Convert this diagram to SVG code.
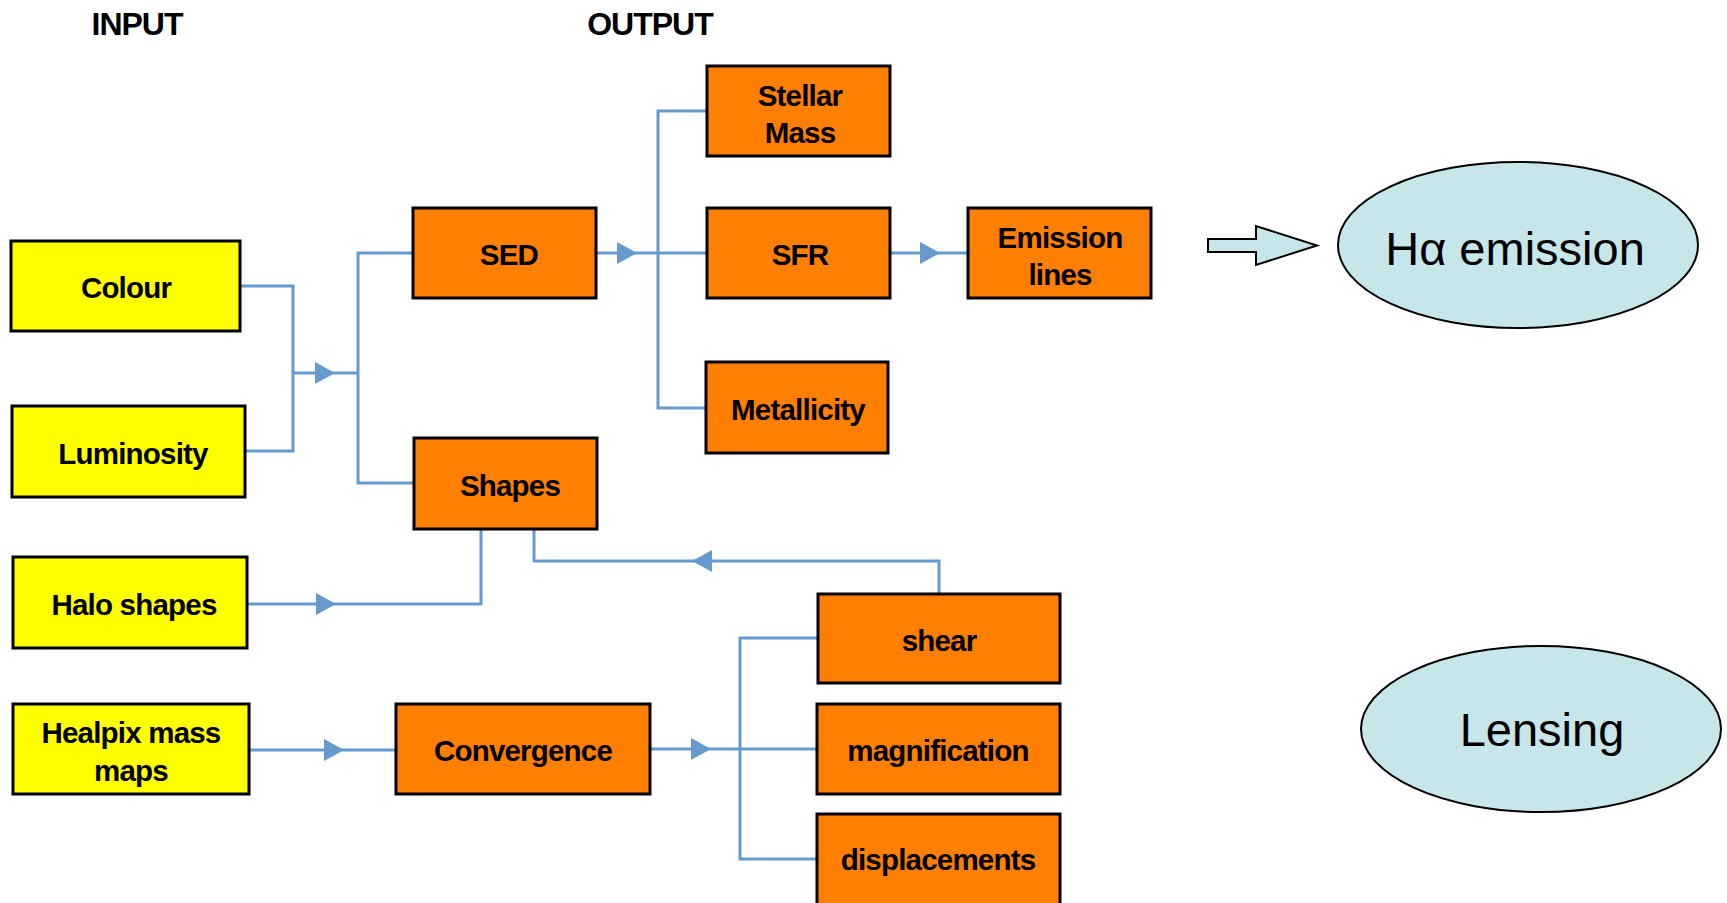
<svg xmlns="http://www.w3.org/2000/svg" width="1727" height="903" viewBox="0 0 1727 903">
<style>
.in{fill:#ffff00;stroke:#000;stroke-width:3}
.out{fill:#ff7f00;stroke:#000;stroke-width:3}
.ell{fill:#c6e6ea;stroke:#000;stroke-width:2}
.t{font-family:"Liberation Sans",Arial,sans-serif;font-weight:bold;font-size:29.5px;text-anchor:middle;fill:#000;letter-spacing:-0.8px}
.h{font-family:"Liberation Sans",Arial,sans-serif;font-weight:bold;font-size:32px;text-anchor:middle;fill:#000;letter-spacing:-1px}
.big{font-family:"Liberation Sans",Arial,sans-serif;font-size:47px;text-anchor:middle;fill:#000}
.c{fill:none;stroke:#6699cc;stroke-width:3}
</style>
<defs>
<marker id="ah" markerUnits="userSpaceOnUse" markerWidth="20" markerHeight="22" refX="20" refY="11" orient="auto" viewBox="0 0 20 22">
<path d="M0,0 L20,11 L0,22 z" fill="#6699cc"/>
</marker>
</defs>
<g id="labels">
<text class="h" x="137" y="35">INPUT</text>
<text class="h" x="650" y="35">OUTPUT</text>
</g>
<g id="connectors">
<path class="c" d="M241,286 H293 V451 H246"/>
<path class="c" d="M293,373 H335" marker-end="url(#ah)"/>
<path class="c" d="M335,373 H358"/>
<path class="c" d="M413,253 H358 V483 H414"/>
<path class="c" d="M596,253 H637" marker-end="url(#ah)"/>
<path class="c" d="M637,253 H707"/>
<path class="c" d="M707,111 H658 V408 H706"/>
<path class="c" d="M890,253 H940" marker-end="url(#ah)"/>
<path class="c" d="M940,253 H968"/>
<path class="c" d="M247,604 H336" marker-end="url(#ah)"/>
<path class="c" d="M336,604 H481 V529"/>
<path class="c" d="M939,594 V561 H692" marker-end="url(#ah)"/>
<path class="c" d="M692,561 H534 V529"/>
<path class="c" d="M249,750 H344" marker-end="url(#ah)"/>
<path class="c" d="M344,750 H396"/>
<path class="c" d="M650,749 H711" marker-end="url(#ah)"/>
<path class="c" d="M711,749 H817"/>
<path class="c" d="M818,638 H740 V859 H817"/>
</g>
<g id="colour"><rect class="in" x="11" y="241" width="229" height="90"/><text class="t" x="126" y="298">Colour</text></g>
<g id="luminosity"><rect class="in" x="12" y="406" width="233" height="91"/><text class="t" x="133" y="464">Luminosity</text></g>
<g id="halo-shapes"><rect class="in" x="13" y="557" width="234" height="91"/><text class="t" x="134" y="615">Halo shapes</text></g>
<g id="healpix"><rect class="in" x="13" y="704" width="236" height="90"/><text class="t" x="131" y="743">Healpix mass</text><text class="t" x="131" y="781">maps</text></g>
<g id="sed"><rect class="out" x="413" y="208" width="183" height="90"/><text class="t" x="509" y="265">SED</text></g>
<g id="shapes"><rect class="out" x="414" y="438" width="183" height="91"/><text class="t" x="510" y="496">Shapes</text></g>
<g id="stellar-mass"><rect class="out" x="707" y="66" width="183" height="90"/><text class="t" x="800" y="106">Stellar</text><text class="t" x="800" y="143">Mass</text></g>
<g id="sfr"><rect class="out" x="707" y="208" width="183" height="90"/><text class="t" x="800" y="265">SFR</text></g>
<g id="metallicity"><rect class="out" x="706" y="362" width="182" height="91"/><text class="t" x="798" y="420">Metallicity</text></g>
<g id="emission-lines"><rect class="out" x="968" y="208" width="183" height="90"/><text class="t" x="1060" y="248">Emission</text><text class="t" x="1060" y="285">lines</text></g>
<g id="convergence"><rect class="out" x="396" y="704" width="254" height="90"/><text class="t" x="523" y="761">Convergence</text></g>
<g id="shear"><rect class="out" x="818" y="594" width="242" height="89"/><text class="t" x="939" y="651">shear</text></g>
<g id="magnification"><rect class="out" x="817" y="704" width="243" height="90"/><text class="t" x="938" y="761">magnification</text></g>
<g id="displacements"><rect class="out" x="817" y="814" width="243" height="92"/><text class="t" x="938" y="870">displacements</text></g>
<g id="block-arrow"><polygon class="ell" points="1208,239 1256,239 1256,226 1317,245.5 1256,265 1256,252 1208,252"/></g>
<g id="ha-emission"><ellipse class="ell" cx="1518" cy="245" rx="180" ry="83"/><text class="big" x="1515" y="265">Hα emission</text></g>
<g id="lensing"><ellipse class="ell" cx="1541" cy="729" rx="180" ry="83"/><text class="big" x="1542" y="746">Lensing</text></g>
</svg>
